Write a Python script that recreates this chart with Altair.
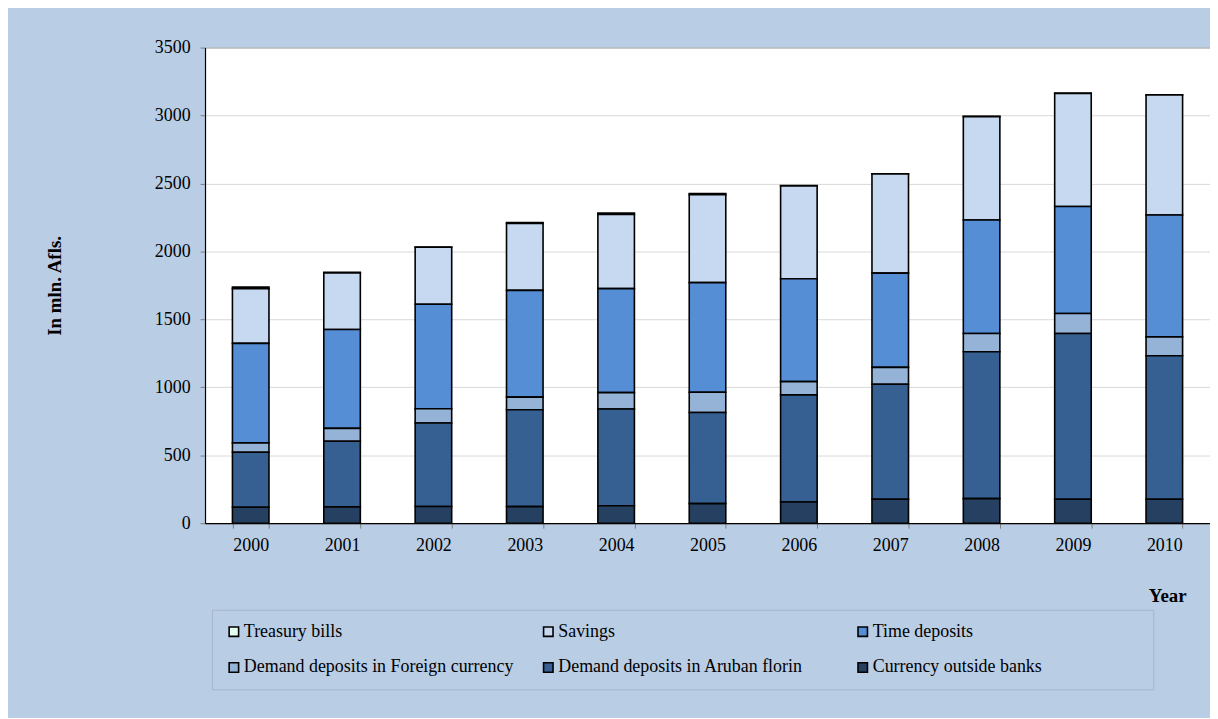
import altair as alt
import pandas as pd

years = ["2000", "2001", "2002", "2003", "2004", "2005", "2006", "2007", "2008", "2009", "2010"]

currency_outside_banks = [117, 120, 123, 122, 128, 144, 156, 176, 181, 176, 176]
demand_awg = [405, 483, 614, 713, 712, 671, 788, 847, 1081, 1220, 1056]
demand_fx = [69, 95, 105, 93, 121, 149, 98, 124, 134, 147, 139]
time_deposits = [732, 727, 769, 785, 765, 806, 757, 693, 835, 788, 897]
savings = [403, 417, 420, 492, 546, 648, 683, 730, 761, 831, 883]
treasury_bills = [12, 5, 2, 8, 10, 8, 2, 2, 3, 3, 2]

series_names = [
    "Treasury bills",
    "Savings",
    "Time deposits",
    "Demand deposits in Foreign currency",
    "Demand deposits in Aruban florin",
    "Currency outside banks",
]
series_values = [treasury_bills, savings, time_deposits, demand_fx, demand_awg, currency_outside_banks]
series_colors = ["#E2FFF2", "#C6D9F1", "#558ED5", "#95B3D7", "#376092", "#254061"]

rows = []
for i, (name, vals) in enumerate(zip(series_names, series_values)):
    for y, v in zip(years, vals):
        rows.append({"Year": y, "Series": name, "Value": v, "StackOrder": len(series_names) - i})
df = pd.DataFrame(rows)

FONT = "Liberation Serif"
BG = "#B9CDE5"

# invisible trailing spacing so the legend frame spans the same width as the original
# (ends with a zero-width char so the spacing is not trimmed)
pad = "\u00a0" * 22 + "\u200b"
label_expr = f"datum.label == 'Currency outside banks' ? datum.label + '{pad}' : datum.label"

chart = alt.Chart(df).mark_bar(stroke="black", strokeWidth=1.6).encode(
    x=alt.X(
        "Year:N",
        sort=years,
        scale=alt.Scale(paddingInner=0.6, paddingOuter=0.3),
        axis=alt.Axis(
            title="Year",
            titleFont=FONT,
            titleFontSize=19,
            titleFontWeight="bold",
            titleColor="black",
            titleX=986,
            titleY=73,
            titleAlign="right",
            titleBaseline="middle",
            titleAngle=0,
            labelAngle=0,
            labelFont=FONT,
            labelFontSize=18,
            labelColor="black",
            labelPadding=8,
            tickBand="extent",
            tickSize=5,
            tickColor="#7F7F7F",
            domainColor="black",
            domainWidth=1.2,
        ),
    ),
    y=alt.Y(
        "Value:Q",
        stack="zero",
        scale=alt.Scale(domain=[0, 3500], nice=False),
        axis=alt.Axis(
            title="In mln. Afls.",
            titleFont=FONT,
            titleFontSize=19,
            titleFontWeight="bold",
            titleColor="black",
            titleX=-151,
            titleY=239,
            titleAngle=-90,
            titleAlign="center",
            titleBaseline="middle",
            values=[0, 500, 1000, 1500, 2000, 2500, 3000, 3500],
            format="d",
            labelFont=FONT,
            labelFontSize=18,
            labelColor="black",
            labelPadding=10,
            tickSize=5,
            tickColor="#7F7F7F",
            domainColor="black",
            domainWidth=1.2,
            grid=True,
            gridColor="#D9D9D9",
            gridWidth=1,
        ),
    ),
    color=alt.Color(
        "Series:N",
        scale=alt.Scale(domain=series_names, range=series_colors),
        legend=alt.Legend(
            title=None,
            orient="none",
            direction="horizontal",
            legendX=7,
            legendY=565,
            columns=3,
            gridAlign="all",
            columnPadding=26,
            rowPadding=18,
            padding=13,
            symbolType="square",
            symbolSize=90,
            symbolStrokeColor="black",
            symbolStrokeWidth=1.6,
            labelFont=FONT,
            labelFontSize=18,
            labelColor="black",
            labelOffset=1,
            labelLimit=500,
            labelExpr=label_expr,
            fillColor=BG,
            strokeColor="#A5B4C8",
        ),
    ),
    order=alt.Order("StackOrder:Q", sort="ascending"),
).properties(
    width=1010,
    height=478,
    autosize=alt.AutoSizeParams(type="none"),
    padding={"left": 198, "top": 38, "right": 0, "bottom": 194},
    background=BG,
).configure_axis(
    labelFont=FONT,
    titleFont=FONT,
).configure_legend(
    labelFont=FONT,
).configure_view(
    fill="white",
    stroke="#808080",
    strokeWidth=1,
)

chart.save("out.html", embed_options={"renderer": "svg", "actions": False})
